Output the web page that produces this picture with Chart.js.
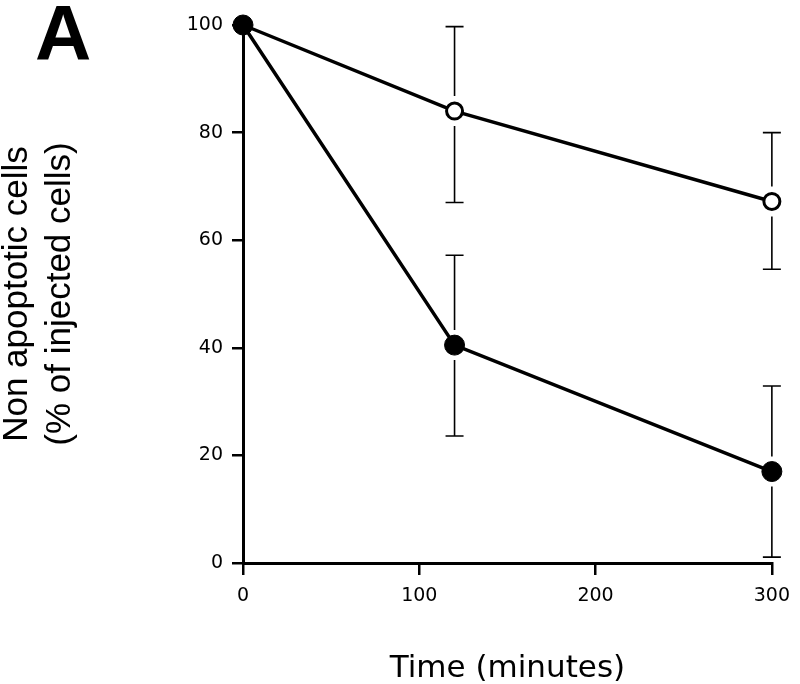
<!DOCTYPE html>
<html>
<head>
<meta charset="utf-8">
<script src="https://cdn.jsdelivr.net/npm/chart.js@4/dist/chart.umd.min.js"></script>
<style>
  html, body { margin: 0; padding: 0; background: #fff; }
  #wrap { width: 800px; height: 684px; }
</style>
</head>
<body>
<div id="wrap"><canvas id="chart" width="800" height="684"></canvas></div>
<script>
// time points (minutes)
const times = [0, 120, 300];

// open circles
const openMean  = [100, 84, 67.2];
const openUpper = [null, 99.7, 80];
const openLower = [null, 67, 54.6];

// filled circles
const filledMean  = [100, 40.5, 17];
const filledUpper = [null, 57.2, 32.9];
const filledLower = [null, 23.6, 1.1];

const xTicks = [0, 100, 200, 300];
const yTicks = [0, 20, 40, 60, 80, 100];

const toPoints = (xs, ys) => xs.map((x, i) => ({ x: x, y: ys[i] }));

// error bars, drawn from the scales; they stop short of the marker
const errorBars = {
  id: 'errorBars',
  beforeDatasetsDraw(chart) {
    const ctx = chart.ctx;
    const xs = chart.scales.x, ys = chart.scales.y;
    const gap = 15, cap = 9;
    const sets = [[openMean, openUpper, openLower], [filledMean, filledUpper, filledLower]];
    ctx.save();
    ctx.strokeStyle = '#000';
    ctx.lineWidth = 1.6;
    sets.forEach(([mean, up, low]) => {
      times.forEach((t, i) => {
        if (up[i] == null) return;
        const px = xs.getPixelForValue(t);
        const pm = ys.getPixelForValue(mean[i]);
        const pu = ys.getPixelForValue(up[i]);
        const pl = ys.getPixelForValue(low[i]);
        ctx.beginPath();
        ctx.moveTo(px, pm - gap); ctx.lineTo(px, pu);
        ctx.moveTo(px - cap, pu); ctx.lineTo(px + cap, pu);
        ctx.moveTo(px, pm + gap); ctx.lineTo(px, pl);
        ctx.moveTo(px - cap, pl); ctx.lineTo(px + cap, pl);
        ctx.stroke();
      });
    });
    ctx.restore();
  }
};

// panel letter
const panelLetter = {
  id: 'panelLetter',
  afterDraw(chart) {
    const ctx = chart.ctx;
    ctx.save();
    ctx.fillStyle = '#000';
    ctx.font = 'bold 78px "Liberation Sans", Arial, sans-serif';
    ctx.textBaseline = 'alphabetic';
    ctx.fillText('A', 35, 60);
    ctx.restore();
  }
};

const ctx = document.getElementById('chart').getContext('2d');
new Chart(ctx, {
  type: 'line',
  data: {
    datasets: [
      {
        // filled first so it sits on top at t = 0
        data: toPoints(times, filledMean),
        borderColor: '#000',
        borderWidth: 3.5,
        pointRadius: 10,
        pointBorderWidth: 1,
        pointBackgroundColor: '#000',
        pointBorderColor: '#000',
        clip: false
      },
      {
        data: toPoints(times, openMean),
        borderColor: '#000',
        borderWidth: 3.5,
        pointRadius: 8,
        pointBorderWidth: 3,
        pointBackgroundColor: '#fff',
        pointBorderColor: '#000',
        clip: false
      }
    ]
  },
  options: {
    responsive: false,
    animation: false,
    layout: { padding: { top: 25, right: 20, left: 0, bottom: 0 } },
    plugins: { legend: { display: false }, tooltip: { enabled: false } },
    scales: {
      x: {
        type: 'linear',
        min: 0,
        max: 300,
        afterBuildTicks: s => { s.ticks = xTicks.map(v => ({ value: v })); },
        afterFit: s => { s.height = 121; },
        border: { color: '#000', width: 3 },
        grid: { drawOnChartArea: false, color: '#000', lineWidth: 2.5, tickLength: 12 },
        ticks: { color: '#000', padding: 10, font: { family: 'DejaVu Sans', size: 19 } },
        title: {
          display: true,
          text: 'Time (minutes)',
          color: '#000',
          font: { family: 'DejaVu Sans', size: 31 },
          padding: { top: 0, bottom: -4 }
        }
      },
      y: {
        min: 0,
        max: 100,
        afterBuildTicks: s => { s.ticks = yTicks.map(v => ({ value: v })); },
        afterFit: s => { s.width = 243; },
        border: { color: '#000', width: 3 },
        grid: { drawOnChartArea: false, color: '#000', lineWidth: 2.5, tickLength: 11 },
        ticks: { color: '#000', padding: 9, font: { family: 'DejaVu Sans', size: 19 } },
        title: {
          display: true,
          text: ['Non apoptotic cells', '(% of injected cells)'],
          color: '#000',
          font: { family: '"Liberation Sans", Arial, sans-serif', size: 35, lineHeight: 1.25 },
          padding: { top: -5, bottom: 0 }
        }
      }
    }
  },
  plugins: [errorBars, panelLetter]
});
</script>
</body>
</html>
